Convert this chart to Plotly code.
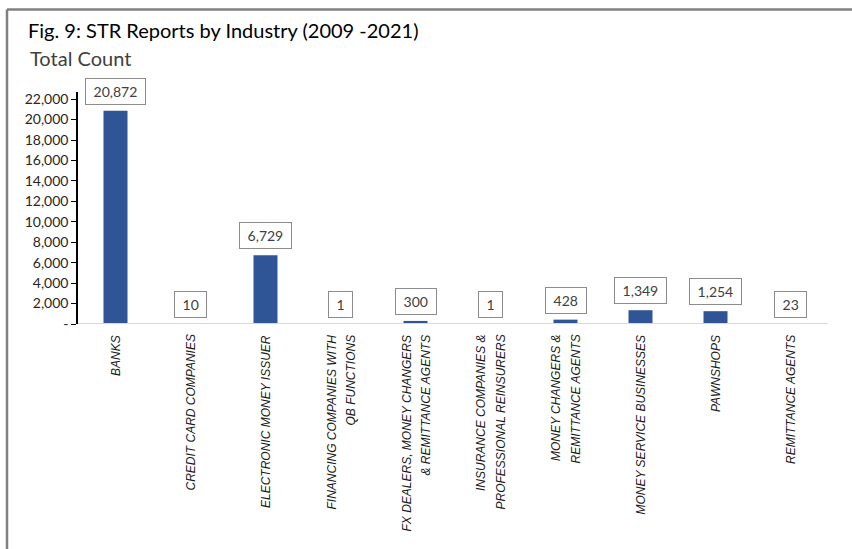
import plotly.graph_objects as go

# Suspicious transaction reports per industry, 2009-2021
industries = [
    "BANKS",
    "CREDIT CARD COMPANIES",
    "ELECTRONIC MONEY ISSUER",
    "FINANCING COMPANIES WITH|QB FUNCTIONS",
    "FX DEALERS, MONEY CHANGERS|& REMITTANCE AGENTS",
    "INSURANCE COMPANIES &|PROFESSIONAL REINSURERS",
    "MONEY CHANGERS &|REMITTANCE AGENTS",
    "MONEY SERVICE BUSINESSES",
    "PAWNSHOPS",
    "REMITTANCE AGENTS",
]
str_counts = [20872, 10, 6729, 1, 300, 1, 428, 1349, 1254, 23]
y_tick_values = [0, 2000, 4000, 6000, 8000, 10000, 12000, 14000, 16000, 18000, 20000, 22000]
y_tick_labels = ["-", "2,000", "4,000", "6,000", "8,000", "10,000", "12,000",
                 "14,000", "16,000", "18,000", "20,000", "22,000"]

FONT = "Lato"
LABEL_FONT = "Liberation Sans"
BAR = "#2F5597"
TXT = "#404040"

W, H = 852, 549
ML, MR, MT, MB = 78, 24, 92, 225

cats = [c.replace("|", " ") for c in industries]

fig = go.Figure(
    go.Bar(
        x=cats,
        y=str_counts,
        marker=dict(color=BAR, line=dict(width=0)),
        width=0.32,
        hoverinfo="x+y",
    )
)

annotations = []
# boxed value labels above each bar
for c, v in zip(cats, str_counts):
    annotations.append(dict(
        x=c, y=v, xref="x", yref="y",
        text="\u00a0" + f"{v:,}" + "\u00a0",
        showarrow=False, yanchor="bottom", xanchor="center", yshift=6,
        font=dict(family=FONT, size=14, color=TXT),
        bordercolor="#8c8c8c", borderwidth=1, borderpad=4, bgcolor="white",
    ))

# rotated, centred category labels under the axis
LINE_STEP = 19
for name, c in zip(industries, cats):
    lines = name.split("|")
    n = len(lines)
    for i, line in enumerate(lines):
        annotations.append(dict(
            x=c, y=0, xref="x", yref="y",
            text="<i>" + line + "</i>", textangle=-90, showarrow=False,
            xanchor="center", yanchor="top", yshift=-9,
            xshift=(i - (n - 1) / 2) * LINE_STEP,
            font=dict(family=LABEL_FONT, size=12, color="#1a1a1a"),
        ))

# subtitle
annotations.append(dict(
    x=28 / W, y=1 - 58 / H, xref="paper", yref="paper",
    text="Total Count", showarrow=False, xanchor="left", yanchor="middle",
    font=dict(family=FONT, size=20, color=TXT),
))

# annotations in paper coordinates use the plot area; convert container coords
pw, ph = W - ML - MR, H - MT - MB
for a in annotations:
    if a.get("xref") == "paper":
        px, py = a["x"] * W, (1 - a["y"]) * H
        a["x"] = (px - ML) / pw
        a["y"] = (H - MB - py) / ph

# chart frame (top and left edges visible)
fx0 = (7 - ML) / pw
fy_top = (H - MB - 9.5) / ph
fy_bot = (H - MB - (H + 5)) / ph
fx1 = (W + 5 - ML) / pw
shapes = [
    dict(type="line", xref="paper", yref="paper", x0=fx0, x1=fx1, y0=fy_top, y1=fy_top,
         line=dict(color="#808080", width=2.5)),
    dict(type="line", xref="paper", yref="paper", x0=fx0, x1=fx0, y0=fy_bot, y1=fy_top,
         line=dict(color="#808080", width=2.5)),
    # category axis baseline, drawn over the bars
    dict(type="line", xref="paper", yref="y", x0=0, x1=1, y0=0, y1=0,
         line=dict(color="#d9d9d9", width=2), layer="above"),
]

fig.update_layout(
    width=W, height=H,
    margin=dict(l=ML, r=MR, t=MT, b=MB),
    paper_bgcolor="white", plot_bgcolor="white",
    showlegend=False,
    title=dict(
        text="Fig. 9: STR Reports by Industry (2009 -2021)",
        x=28 / W, xanchor="left", xref="container",
        y=1 - 31 / H, yanchor="middle", yref="container",
        font=dict(family=FONT, size=20, color="black"),
    ),
    xaxis=dict(
        type="category",
        showticklabels=False,
        showline=False,
        ticks="", showgrid=False, zeroline=False,
    ),
    yaxis=dict(
        range=[0, 22700],
        tickvals=y_tick_values, ticktext=y_tick_labels,
        showline=True, linecolor="black", linewidth=1.5,
        ticks="outside", ticklen=5, tickcolor="black", tickwidth=1,
        showgrid=False, zeroline=False,
        tickfont=dict(family=FONT, size=14, color="#262626"),
    ),
    annotations=annotations,
    shapes=shapes,
    bargap=0.68,
)

fig.write_html("out.html")
